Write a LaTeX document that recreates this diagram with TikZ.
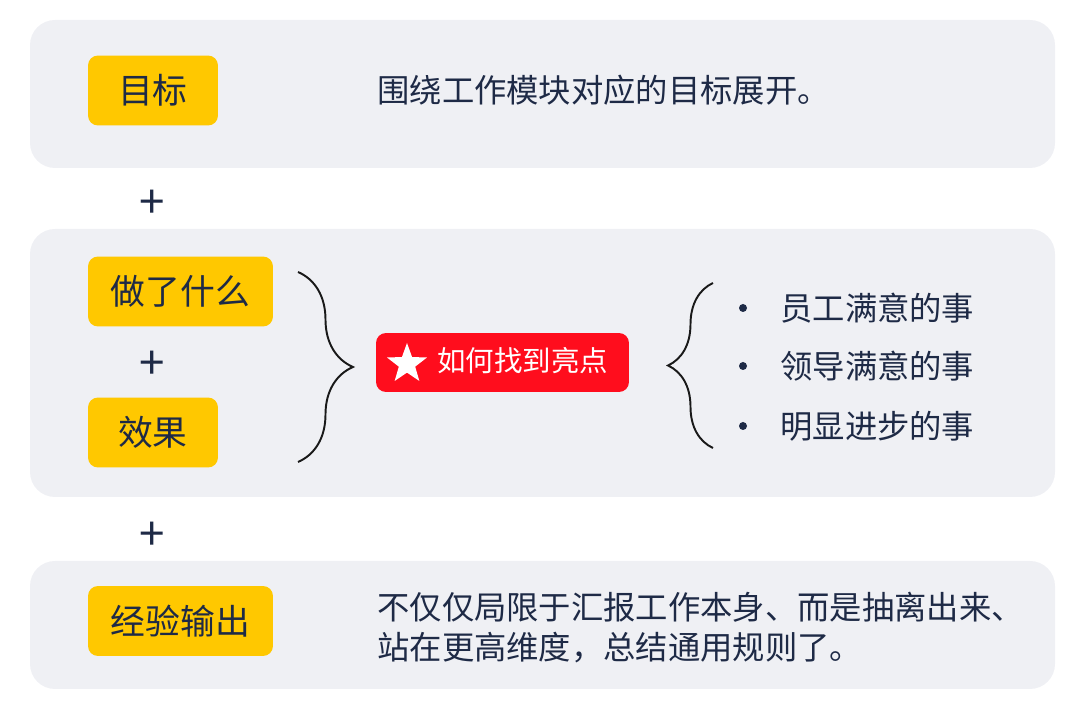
\documentclass[tikz,border=0pt]{standalone}
\usepackage{fontspec}
\setmainfont{Noto Sans CJK SC}
\usetikzlibrary{decorations.pathreplacing, positioning}
\definecolor{Ink}{HTML}{1E2A46}
\definecolor{PanelBg}{HTML}{EFF0F4}
\definecolor{Tag}{HTML}{FFC800}
\definecolor{Spot}{HTML}{FF0D1D}

\begin{document}
\begin{tikzpicture}[
            x=0.02cm, y=-0.02cm,
            panel/.style={fill=PanelBg, rounded corners=0.5cm},
            tag/.style={
                rectangle,
                fill=Tag,
                rounded corners=0.2cm,
                minimum height=1.4cm,
                text=Ink,
                font=\fontsize{19.8}{22}\selectfont
            },
            hilite/.style={
                rectangle,
                fill=Spot,
                rounded corners=0.2cm,
                minimum width=5.06cm,
                minimum height=1.18cm
            },
            body/.style={anchor=west, inner sep=0pt, align=left, text=Ink,
                font=\fontsize{18.4}{22.8}\selectfont},
            item/.style={anchor=west, inner sep=0pt, text=Ink,
                font=\fontsize{18.4}{22}\selectfont},
            plus/.style={text=Ink, font=\fontsize{26}{26}\selectfont},
            brace/.style={decorate, line width=1.1pt, color=black!90}
        ]
            \useasboundingbox (0,0) rectangle (1080,722);

            % Panels
            \fill[panel] (30,20) rectangle (1055,168);
            \fill[panel] (30,229) rectangle (1055,497);
            \fill[panel] (30,561) rectangle (1055,689);

            % Goal
            \node[tag, minimum width=2.6cm] (goal) at (153,90.5) {目标};
            \node[body] (goaltext) at (377,90.5) {围绕工作模块对应的目标展开。};

            \node[plus] (plusa) at (152,204) {+};

            % Work and effect
            \node[tag, minimum width=3.7cm] (work) at (180.5,291.5) {做了什么};
            \node[plus] (plusb) at (152,365) {+};
            \node[tag, minimum width=2.6cm] (effect) at (153,432.5) {效果};

            \coordinate (rbtop) at (298,272);
            \coordinate (rbbot) at (298,462);
            \draw[brace, decoration={brace, amplitude=1.1cm}] (rbtop) -- (rbbot);

            \node[hilite] (spot) at (502.5,362.5) {};
            \coordinate (staricon) at (407,364);
            \fill[white] (staricon) +(-90:21)
                \foreach \k in {1,...,9}{ -- +({-90+36*\k}:{ifthenelse(mod(\k,2)==0,21,8.6)}) } -- cycle;
            \node[anchor=west, inner sep=0pt, text=white,
                font=\fontsize{16.2}{18}\selectfont] (spottext) at (437,361) {如何找到亮点};

            \coordinate (lbbot) at (713,448);
            \coordinate (lbtop) at (713,283);
            \draw[brace, decoration={brace, amplitude=0.9cm}] (lbbot) -- (lbtop);

            \foreach \yy/\txt in {308/员工满意的事, 366/领导满意的事, 426/明显进步的事}{
                \fill[Ink] (743,\yy) circle (0.08cm);
                \node[item] at (780,\yy) {\txt};
            }

            \node[plus] (plusc) at (152,536) {+};

            % Experience
            \node[tag, minimum width=3.7cm] (lesson) at (180.5,621) {经验输出};
            \node[body] (lessontext) at (377,628) {不仅仅局限于汇报工作本身、而是抽离出来、\\站在更高维度，总结通用规则了。};
        \end{tikzpicture}
\end{document}
